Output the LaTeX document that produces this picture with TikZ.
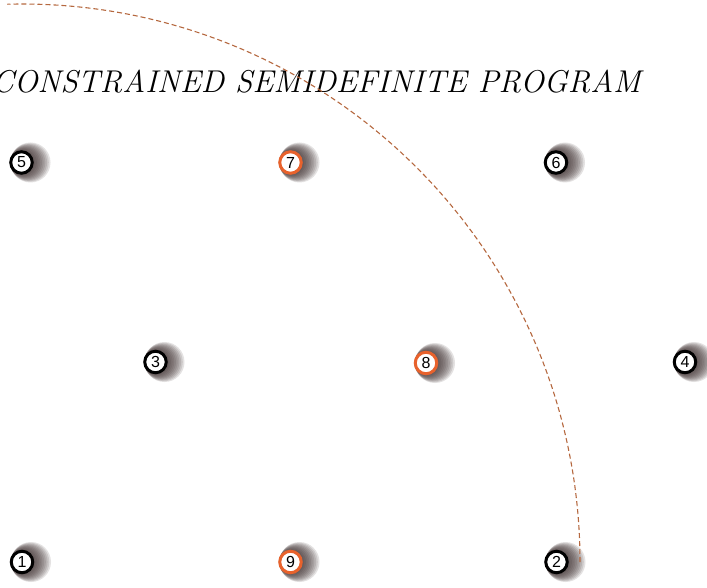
\documentclass[tikz,border=0pt]{standalone}
\usepackage{fontspec}
\newfontfamily\digitfont{Liberation Sans}
\usetikzlibrary{backgrounds}
\definecolor{ringorange}{HTML}{E8622C}
\definecolor{arcbrown}{HTML}{B5683F}
\definecolor{shadowgray}{HTML}{3E3030}

\begin{document}
\begin{tikzpicture}[x=1pt, y=-1pt,
    vertex/.style={circle, draw=black, line width=3pt, fill=white, inner sep=0pt,
      minimum size=21.5pt, font=\digitfont\fontsize{16}{16}\selectfont},
    hilite/.style={vertex, draw=ringorange},
    boundary/.style={arcbrown, dash pattern=on 5pt off 3pt, line width=1.1pt},
    halo/.style={shadowgray, opacity=0.14}
  ]
    \useasboundingbox (0,0) rectangle (707,588);
    \clip (0,0) rectangle (707,588);

    % title
    \node[anchor=base east, inner sep=0pt, font=\fontsize{31.5}{31.5}\selectfont\itshape]
      (title) at (641,93) {CONSTRAINED SEMIDEFINITE PROGRAM};

    % top row
    \node[vertex] (n5) at (21.5,162.5) {5};
    \node[hilite] (n7) at (290.5,162.5) {7};
    \node[vertex] (n6) at (556,162.5) {6};
    % middle row
    \node[vertex] (n3) at (155.5,362) {3};
    \node[hilite] (n8) at (426,363) {8};
    \node[vertex] (n4) at (685,362) {4};
    % bottom row
    \node[vertex] (n1) at (22,562) {1};
    \node[hilite] (n9) at (290.5,562) {9};
    \node[vertex] (n2) at (556.5,562) {2};

    % quarter circle round n1
    \coordinate (arcend) at ([xshift=558pt]n1.center);
    \draw[boundary] (arcend) arc[start angle=0, end angle=-91.5, radius=558];

    \begin{scope}[on background layer]
      \foreach \v in {n1,n2,n3,n4,n5,n6,n7,n8,n9}
        \foreach \i in {1,...,10}
          \fill[halo] ([xshift=0.9*\i pt]\v.center) circle (12+0.8*\i);
    \end{scope}
\end{tikzpicture}
\end{document}
